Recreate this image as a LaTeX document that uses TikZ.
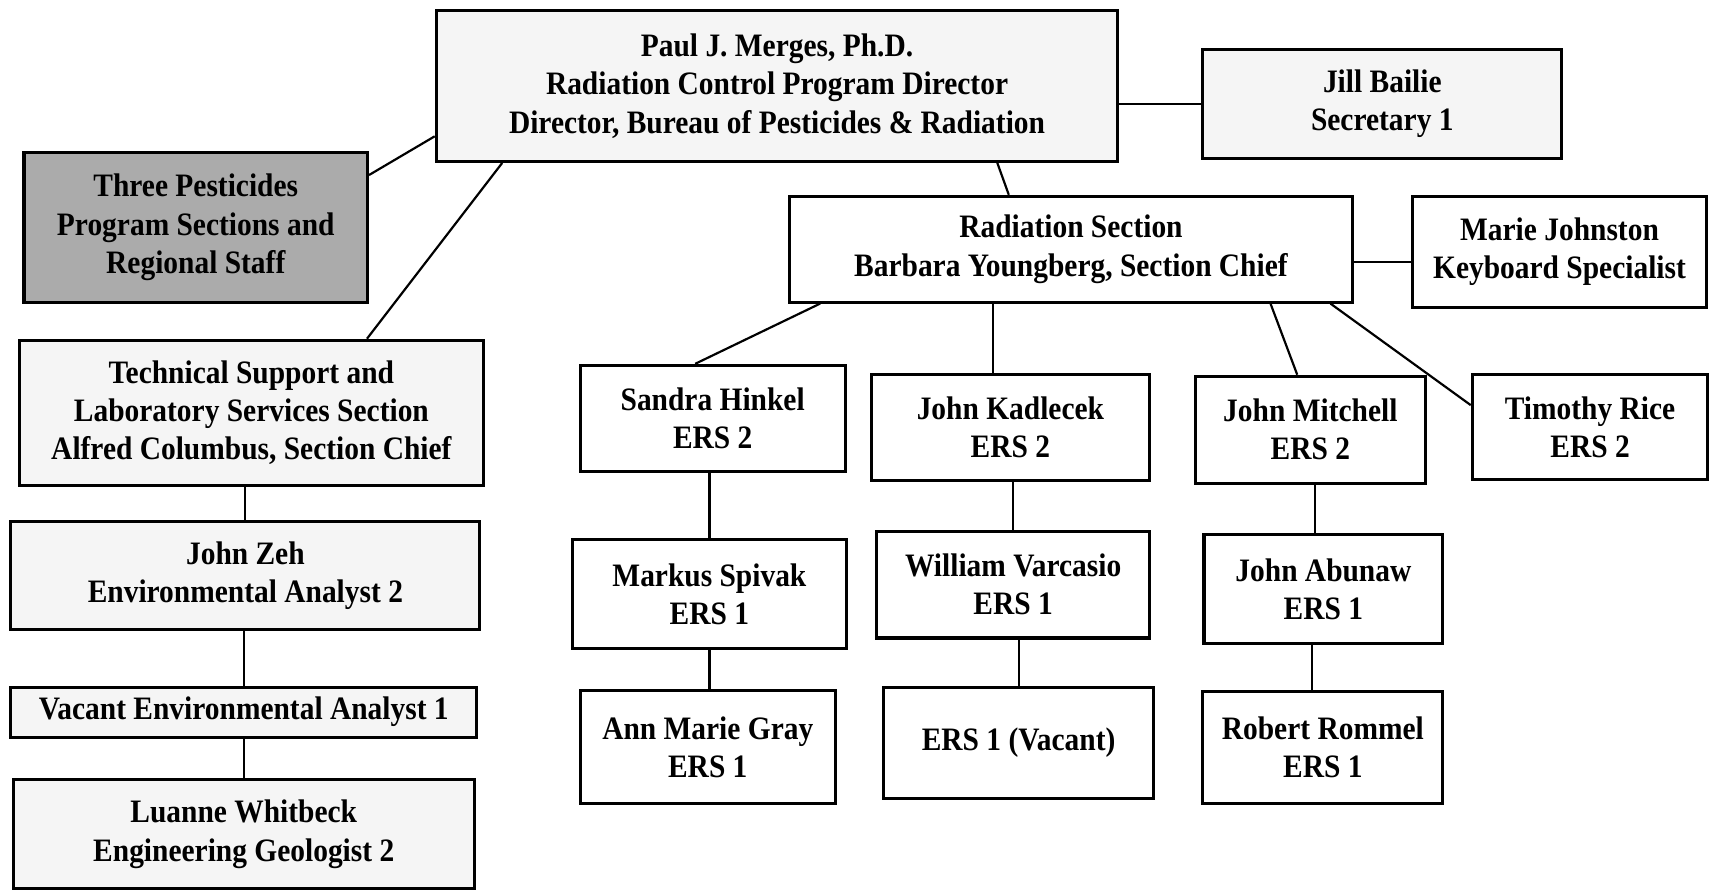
\documentclass[tikz,border=0pt]{standalone}
\usepackage{fontspec}
\setmainfont{Liberation Serif}[BoldFeatures = {FakeStretch = 0.9}]
\usepackage{tikz}

\begin{document}
\begin{tikzpicture}[x = 0.5pt, y = -0.5pt,
    box/.style = {shape = rectangle, draw, line width = 1.4pt, align = center, inner sep = 2pt,
        font = \fontsize{15}{17.5}\selectfont\bfseries},
    litebox/.style = {box, fill = black!4},
    darkbox/.style = {box, fill = black!33},
    link/.style = {line width = 1pt}]
    \useasboundingbox (0,0) rectangle (1568,817);
    \node (dir) [litebox, minimum width = 312.5pt, minimum height = 69pt] at (712.5,79)
        {Paul J. Merges, Ph.D.\\Radiation Control Program Director\\Director, Bureau of Pesticides \& Radiation};
    \node (sec) [litebox, minimum width = 164.5pt, minimum height = 50pt] at (1267.5,95) {Jill Bailie\\Secretary 1};
    \node (pest) [darkbox, minimum width = 157.5pt, minimum height = 69pt] at (179.5,208.5)
        {Three Pesticides\\Program Sections and\\Regional Staff};
    \node (tech) [litebox, minimum width = 212.5pt, minimum height = 66.5pt] at (230.5,378.5)
        {Technical Support and\\Laboratory Services Section\\Alfred Columbus, Section Chief};
    \node (zeh) [litebox, minimum width = 215pt, minimum height = 49.5pt] at (225,527.5) {John Zeh\\Environmental Analyst 2};
    \node (vac) [litebox, minimum width = 213.5pt, minimum height = 23pt] at (223.5,653) {Vacant Environmental Analyst 1};
    \node (lua) [litebox, minimum width = 211.5pt, minimum height = 50pt] at (223.5,765) {Luanne Whitbeck\\Engineering Geologist 2};
    \node (rad) [box, minimum width = 258pt, minimum height = 48.5pt] at (982,228.5)
        {Radiation Section\\Barbara Youngberg, Section Chief};
    \node (mj) [box, minimum width = 135pt, minimum height = 51pt] at (1430,231) {Marie Johnston\\Keyboard Specialist};
    \node (sh) [box, minimum width = 121.5pt, minimum height = 48.5pt] at (653.5,383.5) {Sandra Hinkel\\ERS 2};
    \node (jk) [box, minimum width = 127.5pt, minimum height = 49pt] at (926.5,392) {John Kadlecek\\ERS 2};
    \node (jm) [box, minimum width = 105.5pt, minimum height = 49pt] at (1201.5,394) {John Mitchell\\ERS 2};
    \node (tr) [box, minimum width = 108pt, minimum height = 48.5pt] at (1458,391.5) {Timothy Rice\\ERS 2};
    \node (ms) [box, minimum width = 125.5pt, minimum height = 50pt] at (650.5,545) {Markus Spivak\\ERS 1};
    \node (amg) [box, minimum width = 117pt, minimum height = 52pt] at (649,685) {Ann Marie Gray\\ERS 1};
    \node (wv) [box, minimum width = 125pt, minimum height = 49pt] at (929,536) {William Varcasio\\ERS 1};
    \node (ev) [box, minimum width = 124pt, minimum height = 51pt] at (934,681) {ERS 1 (Vacant)};
    \node (ja) [box, minimum width = 109.5pt, minimum height = 50pt] at (1213.5,540) {John Abunaw\\ERS 1};
    \node (rr) [box, minimum width = 110pt, minimum height = 51.5pt] at (1213,685.5) {Robert Rommel\\ERS 1};

    \draw [link] (sec.west) -- (sec.west -| dir.east);
    \draw [link] ([yshift = 24pt]pest.east) -- ([yshift = -23pt]dir.west);
    \draw [link] ([xshift = 53pt]tech.north) -- ([xshift = -126pt]dir.south);
    \draw [link] ([xshift = 101pt]dir.south) -- ([xshift = -28.5pt]rad.north);
    \draw [link] ([yshift = -4.5pt]mj.west) -- ([yshift = -4.5pt]mj.west -| rad.east);
    \draw [link] ([xshift = -115pt]rad.south) -- ([xshift = -8pt]sh.north);
    \draw [link] ([xshift = -8pt]jk.north) -- ([xshift = -8pt]jk.north |- rad.south);
    \draw [link] ([xshift = 91.5pt]rad.south) -- ([xshift = -6pt]jm.north);
    \draw [link] ([xshift = 119pt]rad.south) -- ([yshift = 10pt]tr.west);
    \draw [link] (ms.north) -- (ms.north |- sh.south);
    \draw [link] (amg.north -| ms.south) -- (ms.south);
    \draw [link] (wv.north) -- (wv.north |- jk.south);
    \draw [link] (ev.north) -- (ev.north |- wv.south);
    \draw [link] ([xshift = -4pt]ja.north) -- ([xshift = -4pt]ja.north |- jm.south);
    \draw [link] ([xshift = -5pt]rr.north) -- ([xshift = -5pt]rr.north |- ja.south);
    \draw [link] (zeh.north) -- (zeh.north |- tech.south);
    \draw [link] (vac.north) -- (vac.north |- zeh.south);
    \draw [link] (lua.north) -- (lua.north |- vac.south);
\end{tikzpicture}
\end{document}
